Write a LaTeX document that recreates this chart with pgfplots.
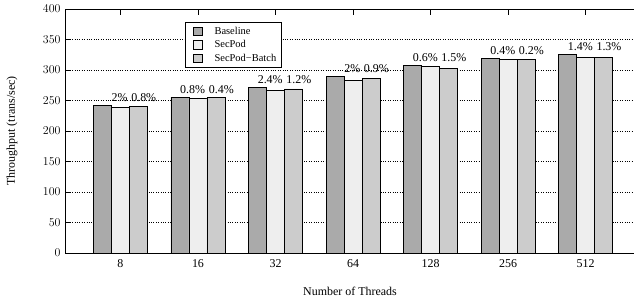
\documentclass[border=0pt]{standalone}
\usepackage{pgfplots}
\usepackage{pgfplotstable}
\pgfplotsset{compat=1.18}
\usepackage{fontspec}
\setmainfont{Liberation Serif}
\pgfplotstableread{
x base secpod batch lsp lb
0 242.5 238 240 2 0.8
1 255.7 254 255 0.8 0.4
2 272 266 269 2.4 1.2
3 289.5 283.6 286 2 0.9
4 308 306.5 303 0.6 1.5
5 318.5 317 317.5 0.4 0.2
6 325.5 320.7 321 1.4 1.3
}\data
\definecolor{cbase}{HTML}{AAAAAA}
\definecolor{csec}{HTML}{EEEEEE}
\definecolor{cbatch}{HTML}{CCCCCC}
\begin{document}
\begin{tikzpicture}
\useasboundingbox (0,0) rectangle (634bp,300bp);
\begin{axis}[
  at={(65bp,47bp)}, anchor=south west,
  scale only axis, width=570bp, height=244bp,
  xmin=-0.715, xmax=6.636, ymin=0, ymax=400,
  ybar=0pt, bar width=18bp,
  xtick={0,...,6}, xticklabels={8,16,32,64,128,256,512},
  ytick={0,50,...,400},
  tick align=inside, xtick pos=both, ytick pos=left,
  major tick length=6bp,
  ymajorgrids, grid style={black, dotted, line width=0.6pt},
  axis line style={black, line width=0.7pt},
  tick style={black, line width=0.6pt},
  font=\fontsize{12}{14}\selectfont,
  tick label style={font=\fontsize{12}{14}\selectfont},
  yticklabel style={xshift=-1bp},
  xticklabel style={yshift=-3bp},
  xlabel={Number of Threads}, ylabel={Throughput (trans/sec)},
  xlabel style={at={(rel axis cs:0.5,0)}, anchor=north, yshift=-31bp, font=\fontsize{12}{14}\selectfont},
  ylabel style={at={(rel axis cs:0,0.5)}, anchor=south, xshift=0bp, yshift=44bp, font=\fontsize{12}{14}\selectfont},
  legend style={at={(rel axis cs:0.211,0.946)}, anchor=north west, draw=black, line width=0.6pt,
    font=\fontsize{10.5}{13}\selectfont, inner xsep=3pt, inner ysep=2.5pt, row sep=0.7pt, cells={anchor=west}},
  legend image code/.code={\draw[#1, line width=0.6pt] (4.7bp,-4.2bp) rectangle (14bp,4.2bp); \path[draw=none, fill=none] (0bp,0) -- (24bp,0);},
  nodes near coords={\pgfplotspointmeta\%},
  every node near coord/.append style={font=\fontsize{12}{14}\selectfont, inner sep=0.5pt, yshift=\dy bp + 3bp},
]
\addplot[draw=black, fill=cbase, line width=0.7pt, nodes near coords={}, visualization depends on={0 \as \dy}] table[x=x, y=base] {\data};
\addplot[draw=black, fill=csec, line width=0.7pt, point meta=explicit symbolic,
  every node near coord/.append style={anchor=south east, xshift=8bp},
  visualization depends on={(\thisrow{base}-\thisrow{secpod})*0.61 \as \dy}] table[x=x, y=secpod, meta=lsp] {\data};
\addplot[draw=black, fill=cbatch, line width=0.7pt, point meta=explicit symbolic,
  every node near coord/.append style={anchor=south west, xshift=-8bp},
  visualization depends on={(\thisrow{base}-\thisrow{batch})*0.61 \as \dy}] table[x=x, y=batch, meta=lb] {\data};
\legend{Baseline, SecPod, SecPod−Batch}
\end{axis}
\end{tikzpicture}
\end{document}
